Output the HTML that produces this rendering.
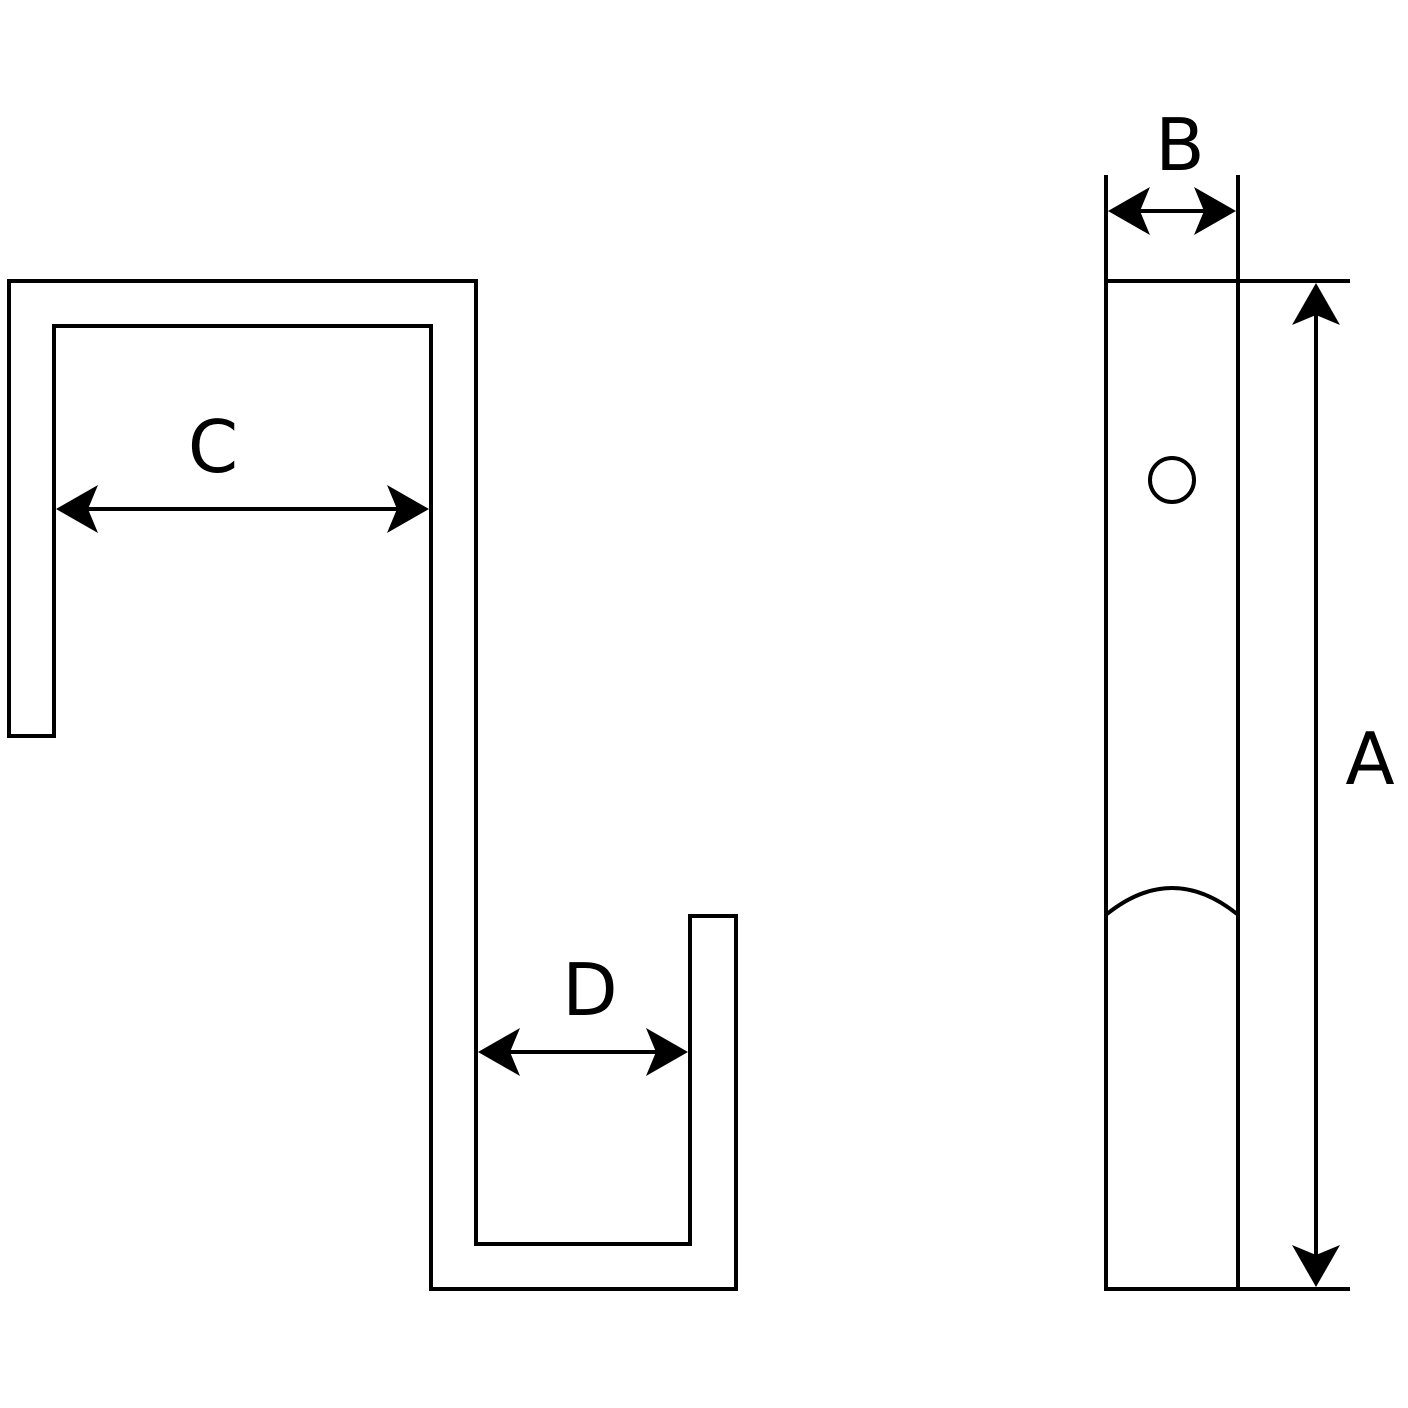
<!DOCTYPE html>
<html><head><meta charset="utf-8"><style>html,body{margin:0;padding:0;background:#fff}svg{display:block}</style></head>
<body>
<svg width="1408" height="1408" viewBox="0 0 1408 1408" xmlns="http://www.w3.org/2000/svg">
<g fill="none" stroke="#000" stroke-width="4">
<path d="M9,736 L9,281 L476,281 L476,1244 L690,1244 L690,916 L736,916 L736,1289 L431,1289 L431,326 L54,326 L54,736 Z"/>
<rect x="1106" y="281" width="132" height="1008"/>
<line x1="1106" y1="175" x2="1106" y2="281"/>
<line x1="1238" y1="175" x2="1238" y2="281"/>
<line x1="1238" y1="281" x2="1350" y2="281"/>
<line x1="1238" y1="1289" x2="1350" y2="1289"/>
<path d="M1107,914 Q1172,862 1237,914"/>
<circle cx="1172" cy="480" r="22"/>
<line x1="1120" y1="211" x2="1224" y2="211"/>
<line x1="1316" y1="300" x2="1316" y2="1270"/>
<line x1="70" y1="509" x2="415" y2="509"/>
<line x1="490" y1="1052" x2="676" y2="1052"/>
</g>
<g fill="#000">
<path d="M56,509 L98,485 L88,509 L98,533 Z"/>
<path d="M429,509 L387,485 L397,509 L387,533 Z"/>
<path d="M478,1052 L520,1028 L510,1052 L520,1076 Z"/>
<path d="M688,1052 L646,1028 L656,1052 L646,1076 Z"/>
<path d="M1108,211 L1150,187 L1140,211 L1150,235 Z"/>
<path d="M1236,211 L1194,187 L1204,211 L1194,235 Z"/>
<path d="M1316,283 L1292,325 L1316,315 L1340,325 Z"/>
<path d="M1316,1287 L1292,1245 L1316,1255 L1340,1245 Z"/>
</g>
<g font-family="'DejaVu Sans','Liberation Sans',sans-serif" font-size="72" text-anchor="middle" fill="#000">
<text x="1180" y="170">B</text>
<text x="213" y="472">C</text>
<text x="590" y="1015">D</text>
<text x="1370" y="784">A</text>
</g>
</svg>
</body></html>
